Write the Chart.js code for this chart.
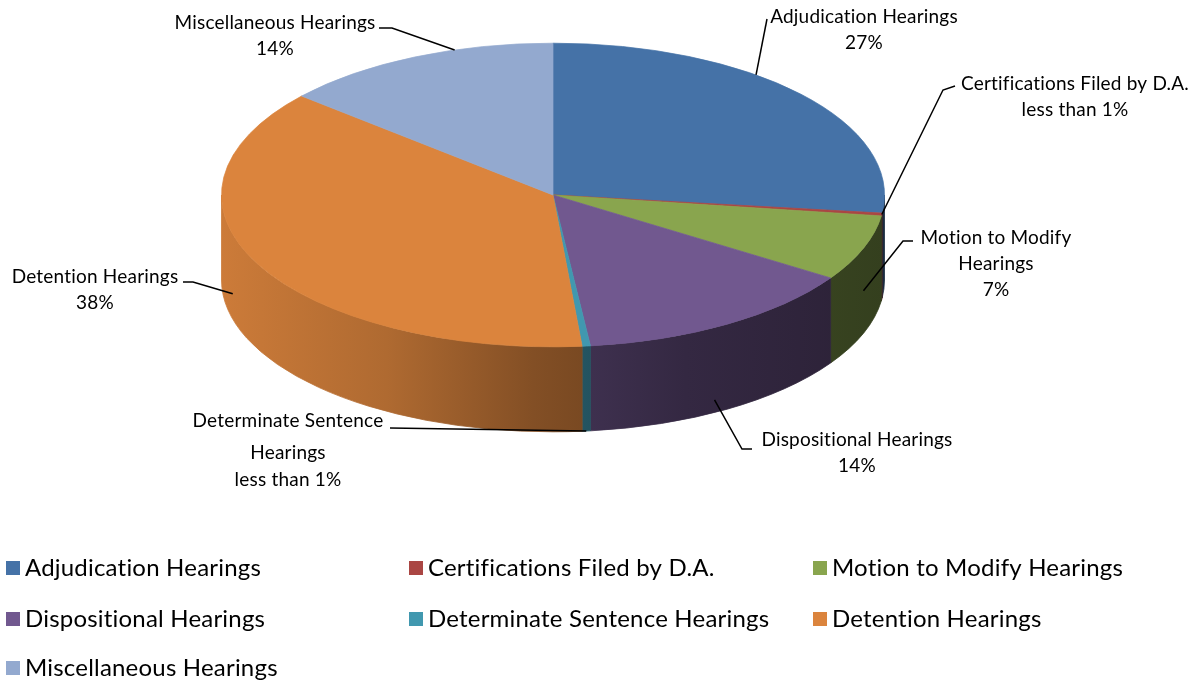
<!DOCTYPE html>
<html lang="en">
<head>
  <meta charset="UTF-8" />
  <title>Hearings by Type</title>
  <script src="https://cdn.jsdelivr.net/npm/chart.js"></script>
  <style>
    body {
      margin: 0;
      background: #fff;
    }
    .wrap {
      width: 1202px;
      height: 683px;
      position: relative;
    }
  </style>
</head>
<body>
  <div class="wrap"><canvas id="hearingsChart"></canvas></div>

  <script>
    const categories = [
      'Adjudication Hearings',
      'Certifications Filed by D.A.',
      'Motion to Modify Hearings',
      'Dispositional Hearings',
      'Determinate Sentence Hearings',
      'Detention Hearings',
      'Miscellaneous Hearings'
    ];
    const shares = [26.9, 0.3, 7.0, 14.0, 0.4, 37.7, 13.7];
    const shareLabels = ['27%', 'less than 1%', '7%', '14%', 'less than 1%', '38%', '14%'];
    const sliceColors = ['#4572a7', '#aa4643', '#89a54e', '#71588f', '#4198af', '#db843d', '#93a9cf'];

    // look of the tilted pie
    const TILT = 0.458;
    const DEPTH = 85;
    const CENTER_Y = 195;
    const FONT = 'Lato, "Open Sans", sans-serif';

    // where the data labels sit; t = position along the slice, drop = how far down the side wall
    const labelLayout = [
      { at: [864, 17], t: 0.39, drop: 0, path: [[767, 19]] },
      { at: [1075, 84], t: 0.5, drop: 0, path: [[955, 86], [943, 90]] },
      { at: [996, 238], wrap: 170, t: 0.5, drop: 0.5, path: [[913, 241], [903, 241]] },
      { at: [857, 440], t: 0.55, drop: 0.85, path: [[752, 449], [742, 449]] },
      { at: [288, 421], wrap: 215, gaps: [32, 27], t: 0.5, drop: 1, path: [[390, 428]] },
      { at: [95, 277], t: 0.59, drop: 0.7, path: [[183, 282], [193, 282]] },
      { at: [275, 23], t: 0.65, drop: 0, path: [[379, 28], [392, 28]] }
    ];
    const legendCols = [6, 409, 813];
    const legendRows = [568, 619, 668];

    function shade(hex, f) {
      const n = parseInt(hex.slice(1), 16);
      const r = Math.round(((n >> 16) & 255) * f);
      const g = Math.round(((n >> 8) & 255) * f);
      const b = Math.round((n & 255) * f);
      return `rgb(${r},${g},${b})`;
    }

    function geom(chart) {
      const arc = chart.getDatasetMeta(0).data[0];
      return { cx: arc.x, cy: CENTER_Y, rx: arc.outerRadius, ry: arc.outerRadius * TILT, oy: arc.y };
    }

    function wrapText(ctx, text, maxWidth) {
      if (!maxWidth) return [text];
      const words = text.split(' ');
      const lines = [];
      let line = '';
      words.forEach(w => {
        const test = line ? line + ' ' + w : w;
        if (line && ctx.measureText(test).width > maxWidth) {
          lines.push(line);
          line = w;
        } else {
          line = test;
        }
      });
      lines.push(line);
      return lines;
    }

    const pie3d = {
      id: 'pie3d',
      beforeDatasetsDraw(chart) {
        const ctx = chart.ctx;
        const g = geom(chart);
        // front side wall of each slice
        chart.getDatasetMeta(0).data.forEach((arc, i) => {
          const a = Math.max(arc.startAngle, 0);
          const b = Math.min(arc.endAngle, Math.PI);
          if (b <= a) return;
          const grad = ctx.createLinearGradient(g.cx - g.rx, 0, g.cx + g.rx, 0);
          [[0, 0.93], [0.25, 0.8], [0.47, 0.6], [0.7, 0.46], [1, 0.38]].forEach(([s, f]) => {
            grad.addColorStop(s, shade(sliceColors[i], f));
          });
          ctx.beginPath();
          ctx.ellipse(g.cx, g.cy, g.rx, g.ry, 0, a, b);
          ctx.ellipse(g.cx, g.cy + DEPTH, g.rx, g.ry, 0, b, a, true);
          ctx.closePath();
          ctx.fillStyle = grad;
          ctx.strokeStyle = grad;
          ctx.lineWidth = 0.8;
          ctx.fill();
          ctx.stroke();
        });
        // squash the top face into an ellipse
        ctx.save();
        ctx.translate(0, g.cy);
        ctx.scale(1, TILT);
        ctx.translate(0, -g.oy);
      },
      afterDatasetsDraw(chart) {
        chart.ctx.restore();
      },
      afterDraw(chart) {
        const ctx = chart.ctx;
        const g = geom(chart);
        const arcs = chart.getDatasetMeta(0).data;

        // data labels with leader lines
        ctx.save();
        ctx.font = `19px ${FONT}`;
        ctx.letterSpacing = '0.2px';
        ctx.fillStyle = '#000';
        ctx.textAlign = 'center';
        ctx.textBaseline = 'middle';
        labelLayout.forEach((lay, i) => {
          const arc = arcs[i];
          const ang = arc.startAngle + lay.t * (arc.endAngle - arc.startAngle);
          const ax = g.cx + g.rx * Math.cos(ang);
          const ay = g.cy + g.ry * Math.sin(ang) + DEPTH * lay.drop;
          ctx.beginPath();
          ctx.moveTo(lay.path[0][0], lay.path[0][1]);
          lay.path.slice(1).forEach(p => ctx.lineTo(p[0], p[1]));
          ctx.lineTo(ax, ay);
          ctx.strokeStyle = '#000';
          ctx.lineWidth = 1.5;
          ctx.stroke();

          const lines = wrapText(ctx, categories[i], lay.wrap).concat([shareLabels[i]]);
          let y = lay.at[1];
          lines.forEach((ln, k) => {
            ctx.fillText(ln, lay.at[0], y);
            y += lay.gaps ? (lay.gaps[k] || 26) : 26;
          });
        });

        // legend
        ctx.font = `24px ${FONT}`;
        ctx.letterSpacing = '0.2px';
        ctx.textAlign = 'left';
        categories.forEach((name, i) => {
          const x = legendCols[i % 3];
          const y = legendRows[Math.floor(i / 3)];
          ctx.fillStyle = sliceColors[i];
          ctx.fillRect(x, y - 7, 14, 14);
          ctx.fillStyle = '#000';
          ctx.fillText(name, x + 19, y);
        });
        ctx.restore();
      }
    };

    new Chart(document.getElementById('hearingsChart'), {
      type: 'pie',
      data: {
        labels: categories,
        datasets: [{
          data: shares,
          backgroundColor: sliceColors,
          borderColor: sliceColors,
          borderWidth: 1,
          hoverOffset: 0
        }]
      },
      options: {
        responsive: true,
        maintainAspectRatio: false,
        animation: false,
        events: [],
        layout: {
          padding: { left: 221, right: 317, top: 0, bottom: 19 }
        },
        plugins: {
          legend: { display: false },
          tooltip: { enabled: false }
        }
      },
      plugins: [pie3d]
    });
  </script>
</body>
</html>
